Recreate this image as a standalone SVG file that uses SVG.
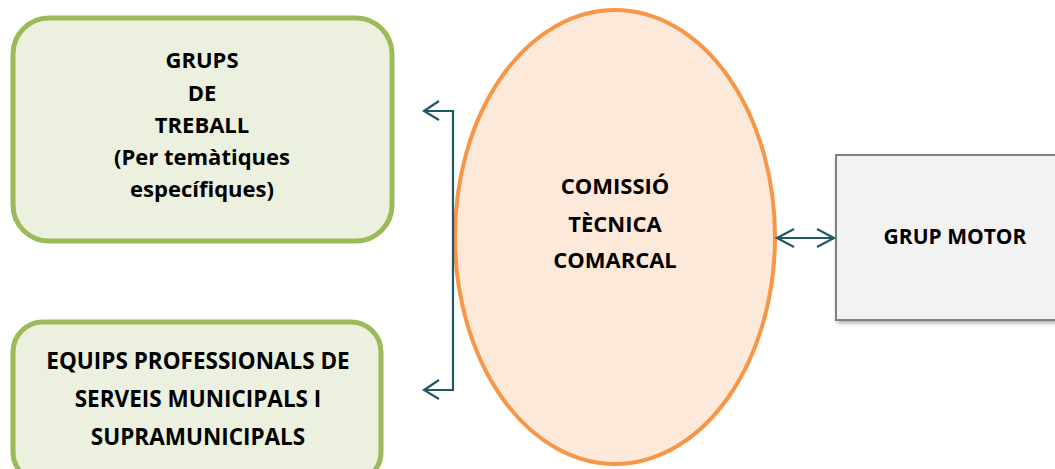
<svg xmlns="http://www.w3.org/2000/svg" width="1055" height="469" viewBox="0 0 1055 469">
<defs>
<style>
.t{font-family:"Open Sans","Liberation Sans",sans-serif;font-weight:bold;font-size:22px;fill:#000;text-anchor:middle}
.green{fill:#EBF1DE;stroke:#9BBB59;stroke-width:5}
.conn{stroke:#215868;stroke-width:2.2;fill:none}
</style>
<filter id="sh" x="-10%" y="-10%" width="130%" height="130%">
<feDropShadow dx="2" dy="2" stdDeviation="2" flood-color="#000" flood-opacity="0.35"/>
</filter>
</defs>
<g id="grups-treball">
<rect class="green" x="13" y="18" width="379" height="223" rx="36"/>
<text class="t" x="202" y="68">GRUPS</text>
<text class="t" x="202" y="101">DE</text>
<text class="t" x="202" y="133">TREBALL</text>
<text class="t" x="202" y="165">(Per temàtiques</text>
<text class="t" x="202" y="197">específiques)</text>
</g>
<g id="equips">
<rect class="green" x="13" y="322" width="368" height="160" rx="30"/>
<text class="t" x="198" y="369" style="font-size:22.5px">EQUIPS PROFESSIONALS DE</text>
<text class="t" x="198" y="407" style="font-size:22.5px">SERVEIS MUNICIPALS I</text>
<text class="t" x="198" y="445" style="font-size:22.5px">SUPRAMUNICIPALS</text>
</g>
<g id="comissio">
<ellipse cx="615" cy="237" rx="160" ry="227" fill="#FDE9D9" stroke="#F79646" stroke-width="4"/>
<text class="t" x="615" y="194">COMISSIÓ</text>
<text class="t" x="615" y="232">TÈCNICA</text>
<text class="t" x="615" y="268">COMARCAL</text>
</g>
<g id="grup-motor">
<rect x="836" y="155" width="225" height="165" fill="#F2F2F2" stroke="#808080" stroke-width="2" filter="url(#sh)"/>
<text class="t" x="955" y="244" style="font-size:21px">GRUP MOTOR</text>
</g>
<g id="connectors">
<polyline class="conn" points="424,111 453,111 453,390 424,390"/>
<polyline class="conn" points="439,101 424,111 439,120"/>
<polyline class="conn" points="439,380 424,390 439,399"/>
<line class="conn" x1="777" y1="238" x2="834" y2="238"/>
<polyline class="conn" points="794,229 777,238 794,247"/>
<polyline class="conn" points="817,229 834,238 817,247"/>
</g>
</svg>
